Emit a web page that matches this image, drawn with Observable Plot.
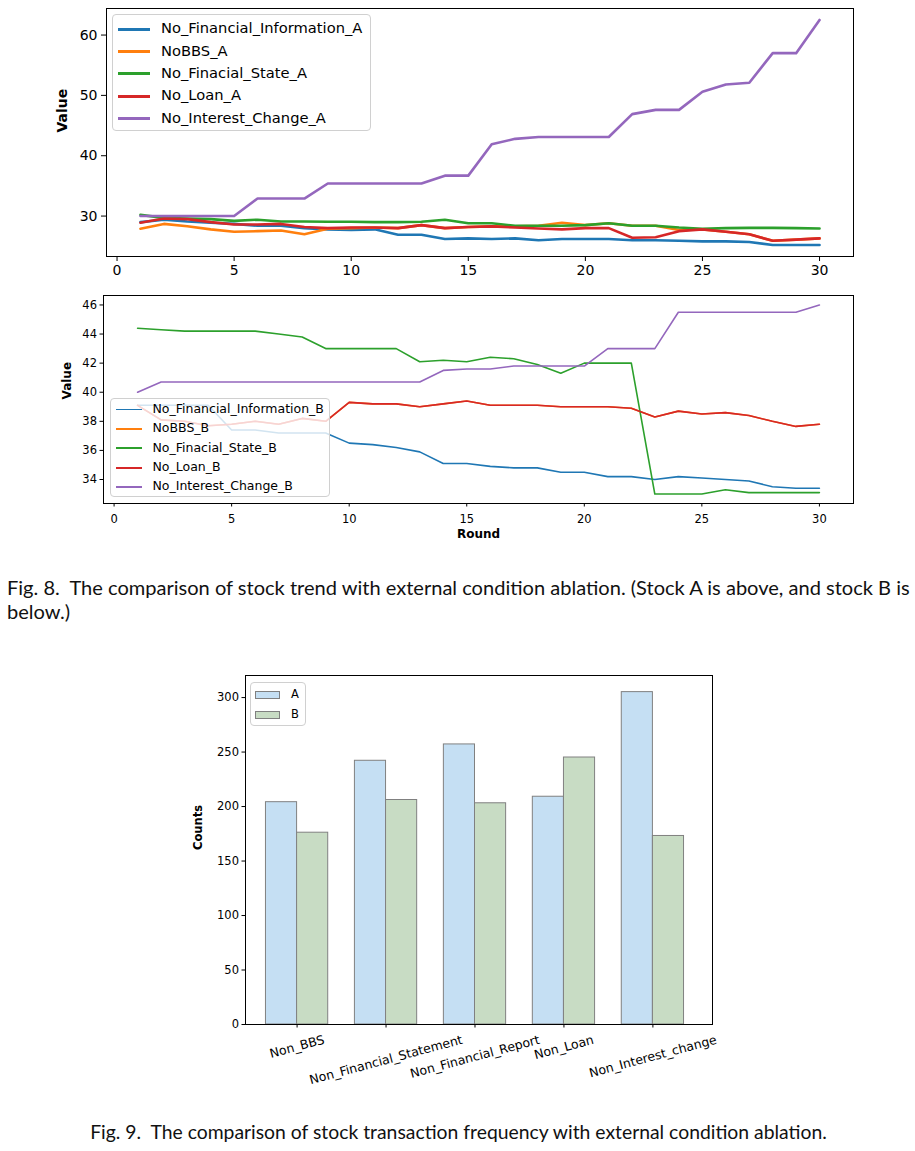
<!DOCTYPE html>
<html><head><meta charset="utf-8">
<script src="https://cdn.jsdelivr.net/npm/d3@7"></script>
<script src="https://cdn.jsdelivr.net/npm/@observablehq/plot@0.6"></script>
<style>
body{margin:0;background:#fff;}
#root{position:relative;width:915px;height:1151px;overflow:hidden;background:#fff;font-family:"DejaVu Sans",sans-serif;color:#000;}
.legend{position:absolute;background:rgba(255,255,255,0.8);border:1px solid #d0d0d0;border-radius:4px;box-sizing:border-box;}
.legend .sw{position:absolute;}
.legend .lab{position:absolute;white-space:nowrap;}
.cap{position:absolute;white-space:pre;font-family:"Lato",sans-serif;color:#111;line-height:24px;}
</style></head><body><div id="root"></div>
<script>
// ---------------- data ----------------
const rounds = [1,2,3,4,5,6,7,8,9,10,11,12,13,14,15,16,17,18,19,20,21,22,23,24,25,26,27,28,29,30];

const namesA = ["No_Financial_Information_A","NoBBS_A","No_Finacial_State_A","No_Loan_A","No_Interest_Change_A"];
const noFinInfoA   = [29.0,29.4,29.1,28.9,28.7,28.4,28.4,28.0,27.8,27.7,27.8,26.9,26.9,26.2,26.3,26.2,26.3,26.0,26.2,26.2,26.2,26.0,26.0,25.9,25.8,25.8,25.7,25.2,25.2,25.2];
const noBBSA       = [27.9,28.7,28.3,27.8,27.4,27.5,27.6,27.0,27.9,28.0,28.1,28.0,28.5,28.0,28.2,28.3,28.3,28.4,28.9,28.5,28.8,28.4,28.4,27.7,27.8,27.4,27.0,25.9,26.1,26.3];
const noFinStateA  = [30.2,29.7,29.6,29.5,29.2,29.4,29.1,29.1,29.05,29.05,29.0,29.0,29.05,29.4,28.8,28.8,28.4,28.4,28.4,28.5,28.8,28.4,28.4,28.1,27.9,28.0,28.05,28.05,28.0,27.95];
const noLoanA      = [28.9,29.6,29.5,29.0,28.6,28.6,28.7,28.2,28.0,28.1,28.1,28.0,28.5,28.0,28.2,28.3,28.1,27.95,27.8,28.0,28.0,26.4,26.5,27.5,27.8,27.4,27.0,25.9,26.1,26.3];
const noInterestA  = [30.0,30.0,30.0,30.0,30.0,32.9,32.9,32.9,35.4,35.4,35.4,35.4,35.4,36.7,36.7,41.9,42.8,43.1,43.1,43.1,43.1,46.9,47.6,47.6,50.6,51.8,52.1,57.0,57.0,62.5];

const namesB = ["No_Financial_Information_B","NoBBS_B","No_Finacial_State_B","No_Loan_B","No_Interest_Change_B"];
const noFinInfoB   = [39.1,39.1,39.1,39.1,37.4,37.4,37.2,37.2,37.2,36.5,36.4,36.2,35.9,35.1,35.1,34.9,34.8,34.8,34.5,34.5,34.2,34.2,34.0,34.2,34.1,34.0,33.9,33.5,33.4,33.4];
const noBBSB       = [39.1,38.1,38.0,37.7,37.8,38.0,37.8,38.2,38.0,39.3,39.2,39.2,39.0,39.2,39.4,39.1,39.1,39.1,39.0,39.0,39.0,38.9,38.3,38.7,38.5,38.6,38.4,38.0,37.65,37.8];
const noFinStateB  = [44.4,44.3,44.2,44.2,44.2,44.2,44.0,43.8,43.0,43.0,43.0,43.0,42.1,42.2,42.1,42.4,42.3,41.9,41.3,42.0,42.0,42.0,33.0,33.0,33.0,33.3,33.1,33.1,33.1,33.1];
const noLoanB      = [39.1,38.1,38.0,37.7,37.8,38.0,37.8,38.2,38.0,39.3,39.2,39.2,39.0,39.2,39.4,39.1,39.1,39.1,39.0,39.0,39.0,38.9,38.3,38.7,38.5,38.6,38.4,38.0,37.65,37.8];
const noInterestB  = [40.0,40.7,40.7,40.7,40.7,40.7,40.7,40.7,40.7,40.7,40.7,40.7,40.7,41.5,41.6,41.6,41.8,41.8,41.8,41.8,43.0,43.0,43.0,45.5,45.5,45.5,45.5,45.5,45.5,46.0];

const xTicks  = [0,5,10,15,20,25,30];
const yTicksA = [30,40,50,60];
const yTicksB = [34,36,38,40,42,44,46];

const categories = ["Non_BBS","Non_Financial_Statement","Non_Financial_Report","Non_Loan","Non_Interest_change"];
const countsA = [204,242,257,209,305];
const countsB = [176,206,203,245,173];
const countTicks = [0,50,100,150,200,250,300];

const colors = ["#1f77b4","#ff7f0e","#2ca02c","#d62728","#9467bd"];
const barFillA = "#c5dff3", barFillB = "#c8dcc4", barEdge = "#808080";

const root = document.getElementById("root");

function place(el, left, top){ el.style.position="absolute"; el.style.left=left+"px"; el.style.top=top+"px"; root.appendChild(el); return el; }

// ---------------- line charts ----------------
function lineChart(o){
  const marks = [];
  o.series.forEach((vals, k) => {
    const rows = rounds.map((r,i)=>({r, v: vals[i]}));
    marks.push(Plot.line(rows, {x:"r", y:"v", stroke: colors[k], strokeWidth: o.sw, strokeLinejoin:"round"}));
  });
  marks.push(Plot.axisX({ticks: xTicks, tickSize: o.tick, tickPadding: o.xpad, label: null, tickFormat: d=>String(d)}));
  marks.push(Plot.axisY({ticks: o.yTicks, tickSize: o.tick, tickPadding: o.pad, label: null, tickFormat: d=>String(d)}));
  marks.push(Plot.text(["Value"], {frameAnchor:"left", dx: o.ylabX - o.ml, rotate:-90, fontWeight:"bold", fontSize: o.lfs}));
  if (o.xlab) marks.push(Plot.text(["Round"], {frameAnchor:"bottom", dy: o.xlabDy, fontWeight:"bold", fontSize: o.lfs}));
  marks.push(Plot.frame({stroke:"black", strokeWidth:1}));
  const svg = Plot.plot({
    width: 915, height: o.height,
    marginTop: o.mt, marginBottom: o.mb, marginLeft: o.ml, marginRight: o.mr,
    x: {domain: [-0.45, 31.45]},
    y: {domain: o.yDomain},
    style: {fontFamily: "DejaVu Sans", fontSize: o.fs + "px", color: "black", background: "transparent", overflow: "visible"},
    marks
  });
  place(svg, 0, o.top);
}

lineChart({series:[noFinInfoA,noBBSA,noFinStateA,noLoanA,noInterestA], top:0, height:290, mt:8, mb:34, ml:106, mr:62,
  yDomain:[23.3,64.4], yTicks:yTicksA, fs:14, lfs:14, sw:2.6, tick:5, pad:4, xpad:4, ylabX:62});
lineChart({series:[noFinInfoB,noBBSB,noFinStateB,noLoanB,noInterestB], top:285, height:265, mt:10, mb:47, ml:103, mr:62,
  yDomain:[32.35,46.65], yTicks:yTicksB, fs:11.5, lfs:12, sw:1.6, tick:3.5, pad:3, xpad:8, ylabX:67, xlab:true, xlabDy:34});

// ---------------- legends ----------------
function lineLegend(names, o){
  const box = document.createElement("div"); box.className="legend";
  box.style.width=o.w+"px"; box.style.height=o.h+"px";
  names.forEach((n,k)=>{
    const cy = o.y0 + k*o.dy;
    const sw = document.createElement("div"); sw.className="sw";
    sw.style.left=o.sx+"px"; sw.style.width=o.sl+"px"; sw.style.top=(cy-o.lw/2)+"px"; sw.style.height=o.lw+"px"; sw.style.background=colors[k];
    box.appendChild(sw);
    const lab = document.createElement("div"); lab.className="lab"; lab.textContent=n;
    lab.style.left=o.tx+"px"; lab.style.fontSize=o.fs+"px"; lab.style.lineHeight=o.fs+"px"; lab.style.top=(cy-o.fs/2-0.5)+"px";
    box.appendChild(lab);
  });
  place(box, o.left, o.top);
}
lineLegend(namesA, {left:112, top:14, w:259, h:117, y0:14, dy:22.4, sx:5, sl:32, lw:3, tx:48, fs:14.7});
lineLegend(namesB, {left:110, top:398, w:220, h:99, y0:10.5, dy:19.4, sx:5, sl:26, lw:1.8, tx:41.5, fs:12.5});

// ---------------- bar chart ----------------
const barRowsA = categories.map((c,i)=>({i, v: countsA[i]}));
const barRowsB = categories.map((c,i)=>({i, v: countsB[i]}));
const barW = 0.35;
const labFs = 12.5;
const meas = document.createElement("canvas").getContext("2d");
meas.font = labFs + "px 'DejaVu Sans'";
const labelMarks = categories.map((c,i)=>{
  const w = meas.measureText(c).width;
  const H = w*Math.sin(15*Math.PI/180) + labFs*Math.cos(15*Math.PI/180);
  return Plot.text([c], {x: ()=>i, y: ()=>0, rotate:-15, textAnchor:"middle", lineAnchor:"middle", fontSize: labFs, dy: 9 + H/2});
});
const barSvg = Plot.plot({
  width: 915, height: 420,
  marginTop: 10, marginBottom: 61, marginLeft: 245, marginRight: 203,
  x: {domain: [-0.58, 4.67]},
  y: {domain: [0, 320.25]},
  style: {fontFamily: "DejaVu Sans", fontSize: "11.5px", color: "black", background: "transparent", overflow: "visible"},
  marks: [
    Plot.rectY(barRowsA, {x1: d=>d.i-barW, x2: d=>d.i, y1: ()=>0, y2:"v", fill: barFillA, stroke: barEdge, strokeWidth: 1}),
    Plot.rectY(barRowsB, {x1: d=>d.i, x2: d=>d.i+barW, y1: ()=>0, y2:"v", fill: barFillB, stroke: barEdge, strokeWidth: 1}),
    Plot.axisY({ticks: countTicks, tickSize: 3.5, tickPadding: 3, label: null, tickFormat: d=>String(d)}),
    Plot.axisX({ticks: [0,1,2,3,4], tickSize: 3.5, label: null, tickFormat: ()=>""}),
    ...labelMarks,
    Plot.text(["Counts"], {frameAnchor:"left", dx: 198-245, rotate:-90, fontWeight:"bold"}),
    Plot.frame({stroke:"black", strokeWidth:1})
  ]
});
place(barSvg, 0, 665);

// bar legend
(function(){
  const box = document.createElement("div"); box.className="legend";
  box.style.width="56px"; box.style.height="44px";
  [["A",barFillA],["B",barFillB]].forEach(([t,f],k)=>{
    const cy = 11.5 + k*20;
    const sw = document.createElement("div"); sw.className="sw";
    sw.style.left="4px"; sw.style.top=(cy-4)+"px"; sw.style.width="25px"; sw.style.height="8px";
    sw.style.background=f; sw.style.border="1px solid "+barEdge; sw.style.boxSizing="border-box";
    box.appendChild(sw);
    const lab = document.createElement("div"); lab.className="lab"; lab.textContent=t;
    lab.style.left="40px"; lab.style.fontSize="11.5px"; lab.style.lineHeight="12px"; lab.style.top=(cy-6.5)+"px";
    box.appendChild(lab);
  });
  place(box, 250, 682);
})();

// ---------------- captions ----------------
const cap8a = "Fig. 8.  The comparison of stock trend with external condition ablation. (Stock A is above, and stock B is";
const cap8b = "below.)";
const cap9 = "Fig. 9.  The comparison of stock transaction frequency with external condition ablation.";
meas.font = "100px Lato";
const fsCap8 = 100 * 906 / meas.measureText(cap8a).width;
const fsCap9 = 100 * 739 / meas.measureText(cap9).width;
function caption(text, fs, left, top, center){
  const d = document.createElement("div"); d.className="cap"; d.textContent=text; d.style.fontSize=fs+"px";
  place(d, left, top);
  if (center){ const w = d.getBoundingClientRect().width; d.style.left=(center - w/2)+"px"; }
}
caption(cap8a, fsCap8, 7, 575);
caption(cap8b, fsCap8, 7, 599);
caption(cap9, fsCap9, 0, 1120, 458.5);
</script></body></html>
